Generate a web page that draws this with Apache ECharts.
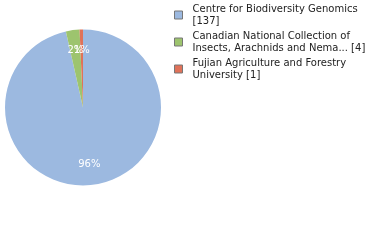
<!DOCTYPE html>
<html>
<head>
<meta charset="utf-8">
<script src="https://cdn.jsdelivr.net/npm/echarts@6/dist/echarts.min.js"></script>
<style>
  html, body { margin: 0; padding: 0; background: #fff; }
  #chart { width: 380px; height: 240px; }
</style>
</head>
<body>
<div id="chart"></div>
<script>
// institutions and record counts
const names = [
  'Centre for Biodiversity Genomics',
  'Canadian National Collection of Insects, Arachnids and Nema...',
  'Fujian Agriculture and Forestry University'
];
const counts = [137, 4, 1];
const pctLabels = ['96%', '2%', '1%'];
const legendLines = [
  ['Centre for Biodiversity Genomics', '[137]'],
  ['Canadian National Collection of', 'Insects, Arachnids and Nema... [4]'],
  ['Fujian Agriculture and Forestry', 'University [1]']
];
const colors = ['#9cb9e0', '#9dc46e', '#e07259'];

const data = names.map((n, i) => ({ name: n, value: counts[i], itemStyle: { color: colors[i] } }));
const font = 'DejaVu Sans';

const chart = echarts.init(document.getElementById('chart'));
chart.setOption({
  animation: false,
  legend: {
    orient: 'vertical',
    left: 174,
    top: 3,
    padding: 0,
    itemWidth: 8,
    itemHeight: 8,
    itemGap: 3,
    icon: 'rect',
    itemStyle: { borderColor: '#777', borderWidth: 1 },
    textStyle: { fontFamily: font, fontSize: 10, color: '#222', lineHeight: 12, padding: [0, 0, 0, 5] },
    formatter: function (name) {
      const i = names.indexOf(name);
      return legendLines[i].join('\n');
    },
    data: names
  },
  series: [
    {
      type: 'pie',
      center: [83, 107.5],
      radius: [0, 78],
      startAngle: 90,
      clockwise: true,
      avoidLabelOverlap: false,
      data: data,
      label: { show: false },
      labelLine: { show: false },
      silent: true
    },
    {
      // label carrier: invisible pie, its inside labels land at ~3/4 of the visible radius
      type: 'pie',
      center: [83, 107.5],
      radius: [0, 109],
      startAngle: 90,
      clockwise: true,
      avoidLabelOverlap: false,
      data: data.map(d => ({ name: d.name, value: d.value, itemStyle: { color: 'rgba(0,0,0,0)' } })),
      label: {
        show: true,
        position: 'inside',
        color: '#fff',
        fontFamily: font,
        fontSize: 10,
        formatter: p => pctLabels[p.dataIndex]
      },
      labelLayout: { hideOverlap: false },
      labelLine: { show: false },
      silent: true
    }
  ]
});
</script>
</body>
</html>
